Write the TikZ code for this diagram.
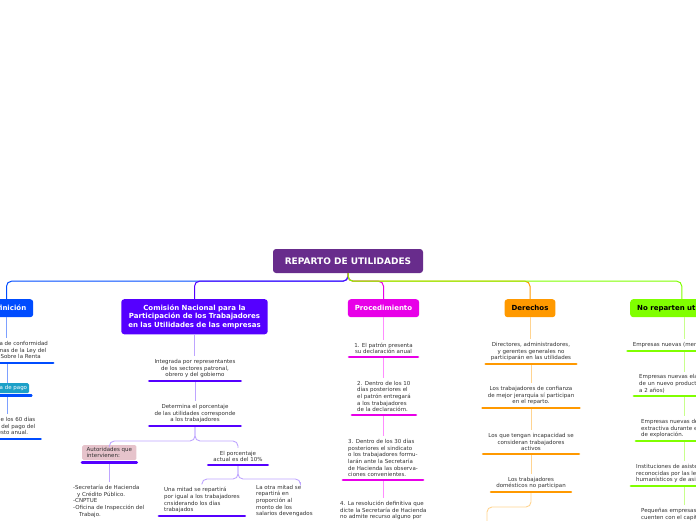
\documentclass[tikz,border=0pt]{standalone}
\usepackage{fontspec}
\setmainfont{DejaVu Sans}
\usetikzlibrary{calc}

\definecolor{rootpurple}{RGB}{104,44,140}
\definecolor{defblue}{RGB}{0,76,255}
\definecolor{deflight}{RGB}{125,160,255}
\definecolor{compurple}{RGB}{85,0,255}
\definecolor{comlight}{RGB}{190,165,255}
\definecolor{procpink}{RGB}{232,0,232}
\definecolor{proclight}{RGB}{255,140,255}
\definecolor{derorange}{RGB}{255,153,0}
\definecolor{derlight}{RGB}{255,212,145}
\definecolor{nogreen}{RGB}{128,255,0}
\definecolor{nolight}{RGB}{200,255,140}
\definecolor{pagoteal}{RGB}{28,160,200}
\definecolor{autpink}{RGB}{230,195,203}
\definecolor{txtgray}{RGB}{50,50,50}

\tikzset{
  rootbox/.style={fill=rootpurple, text=white, rounded corners=3pt,
    font=\fontsize{9}{10}\selectfont\bfseries, minimum width=150pt, minimum height=24pt},
  mainbox/.style={rounded corners=3pt, anchor=north, align=center,
    font=\fontsize{7}{8.5}\selectfont\bfseries, inner xsep=7pt, inner ysep=4.5pt, minimum height=18pt},
  item/.style={font=\fontsize{5.5}{6.6}\selectfont, text=txtgray, align=center,
    inner xsep=5pt, inner ysep=3pt},
  itemL/.style={item, align=left},
  tag/.style={font=\fontsize{5.5}{6.6}\selectfont, rounded corners=1.5pt},
  ubar/.style={line width=2.8pt, line cap=round},
  branch/.style={line width=1pt, rounded corners=5pt},
  link/.style={line width=0.9pt, rounded corners=5pt},
}

\begin{document}
\begin{tikzpicture}[x=1pt,y=-1pt]
\useasboundingbox (0,0) rectangle (696,520);
\clip (0,0) rectangle (696,520);

% central topic
\node[rootbox] (root) at (348,261) {REPARTO DE UTILIDADES};

% main topics
\node[mainbox, fill=defblue, text=white] (def) at (6.5,299) {Definición};
\node[mainbox, fill=compurple, text=white, inner ysep=5.5pt] (com) at (194.5,299)
  {Comisión Nacional para la\\Participación de los Trabajadores\\en las Utilidades de las empresas};
\node[mainbox, fill=procpink, text=white] (proc) at (383.5,299) {Procedimiento};
\node[mainbox, fill=derorange, text=black] (der) at (530,299) {Derechos};
\node[mainbox, fill=nogreen, text=black, anchor=north west] (norep) at (630,299) {No reparten utilidades};

\draw[branch, defblue] (root.south) -- ++(0,8) -| (def.north);
\draw[branch, compurple] (root.south) -- ++(0,8) -| (com.north);
\draw[branch, procpink] (root.south) -- ++(0,8) -| (proc.north);
\draw[branch, derorange] (root.south) -- ++(0,8) -| (der.north);
\draw[branch, nogreen] (root.south) -- ++(0,8) -| (norep.north);

% Definicion
\node[item, anchor=south] (def1) at (7,363)
  {Se determina de conformidad\\con las normas de la Ley del\\Impuesto Sobre la Renta};
\node[tag, fill=pagoteal, text=white, anchor=north, inner xsep=2pt, inner ysep=1pt,
  minimum height=10pt] (pago) at (7,383) {Fecha de pago};
\node[item, anchor=south] (def3) at (6,439)
  {Dentro de los 60 días\\después del pago del\\impuesto anual.};
\draw[link, deflight] (def.south) -- (def.south |- def1.north);
\draw[link, deflight] (def1.south) -- (def1.south |- pago.north);
\draw[link, deflight] ([yshift=-2pt]pago.south) -- (pago.south |- def3.north);
\draw[ubar, defblue] (def1.south west) -- (def1.south east);
\draw[ubar, defblue] ([yshift=-2pt]pago.south west) -- ([xshift=2pt,yshift=-2pt]pago.south east);
\draw[ubar, defblue] (def3.south west) -- (def3.south east);

% Comision
\node[item, anchor=south] (com1) at (195,381)
  {Integrada por representantes\\de los sectores patronal,\\obrero y del gobierno};
\node[item, anchor=south] (com2) at (195,426)
  {Determina el porcentaje\\de las utilidades corresponde\\a los trabajadores};
\node[tag, fill=autpink, text=txtgray, align=left, anchor=north west, inner xsep=4.5pt,
  inner ysep=2pt] (aut) at (82,445) {Autoridades que\\intervienen:};
\node[itemL, anchor=north west] (aut1) at (68,482)
  {-Secretaría de Hacienda\\\hspace*{4pt}y Crédito Público.\\-CNPTUE\\-Oficina de Inspección del\\\hspace*{6pt}Trabajo.};
\node[item, anchor=south] (pct) at (238,465) {El porcentaje\\actual es del 10\%};
\node[itemL, anchor=south west] (mit1) at (159,516)
  {Una mitad se repartirá\\por igual a los trabajadores\\cnsiderando los días\\trabajados};
\node[itemL, anchor=north west] (mit2) at (251,482)
  {La otra mitad se\\repartirá en\\proporción al\\monto de los\\salarios devengados};
\draw[link, comlight] (com.south) -- (com.south |- com1.north);
\draw[link, comlight] (com1.south) -- (com1.south |- com2.north);
\draw[link, comlight] (com2.south) -- ++(0,15) -| (aut.north);
\draw[link, comlight] (com2.south) -- ++(0,15) -| (pct.north);
\draw[link, comlight] ([yshift=-2pt]aut.south) -- (aut.south |- aut1.north);
\draw[link, comlight] (pct.south) -- ++(0,14) -| (mit1.north);
\draw[link, comlight] (pct.south) -- ++(0,14) -| ([xshift=16pt]mit2.north);
\draw[ubar, compurple] (com1.south west) -- (com1.south east);
\draw[ubar, compurple] (com2.south west) -- (com2.south east);
\draw[ubar, compurple] ([yshift=-2pt]aut.south west) -- ([yshift=-2pt]aut.south east);
\draw[ubar, compurple] (pct.south west) -- (pct.south east);
\draw[ubar, compurple] (mit1.south west) -- (mit1.south east);

% Procedimiento
\node[item, anchor=south] (p1) at (383.5,357) {1. El patrón presenta\\su declaración anual};
\node[itemL, anchor=south west] (p2) at (352,415)
  {2. Dentro de los 10\\días posteriores el\\el patrón entregará\\a los trabajadores\\de la declaracióm.};
\node[itemL, anchor=south west] (p3) at (343,480)
  {3. Dentro de los 30 días\\posteriores el sindicato\\o los trabajadores formu-\\larán ante la Secretaría\\de Hacienda las observa-\\ciones convenientes.};
\node[itemL, anchor=north west] (p4) at (335,498)
  {4. La resolución definitiva que\\dicte la Secretaría de Hacienda\\no admite recurso alguno por};
\draw[link, proclight] (proc.south) -- (proc.south |- p1.north);
\draw[link, proclight] (p1.south) -- (p1.south |- p2.north);
\draw[link, proclight] (p1.south |- p2.south) -- (p1.south |- p3.north);
\draw[link, proclight] (p1.south |- p3.south) -- (p1.south |- p4.north);
\draw[ubar, procpink] (p1.south west) -- (p1.south east);
\draw[ubar, procpink] (p2.south west) -- (p2.south east);
\draw[ubar, procpink] (p3.south west) -- (p3.south east);

% Derechos
\node[item, anchor=south] (d1) at (531,364)
  {Directores, administradores,\\y gerentes generales no\\participarán en las utilidades};
\node[item, anchor=south] (d2) at (531,408)
  {Los trabajadores de confianza\\de mejor jerarquía sí participan\\en el reparto.};
\node[item, anchor=south] (d3) at (531,454)
  {Los que tengan incapacidad se\\consideran trabajadores\\activos};
\node[item, anchor=south] (d4) at (531,492) {Los trabajadores\\domésticos no participan};
\coordinate (d5) at (487,540);
\draw[link, derlight] (der.south) -- (der.south |- d1.north);
\draw[link, derlight] (d1.south) -- (d1.south |- d2.north);
\draw[link, derlight] (d2.south) -- (d2.south |- d3.north);
\draw[link, derlight] (d3.south) -- (d3.south |- d4.north);
\draw[link, derlight] (d4.south) -- ++(0,15) -| (d5);
\draw[ubar, derorange] (d1.south west) -- (d1.south east);
\draw[ubar, derorange] (d2.south west) -- (d2.south east);
\draw[ubar, derorange] (d3.south west) -- (d3.south east);
\draw[ubar, derorange] (d4.south west) -- (d4.south east);

% No reparten
\node[item, anchor=south] (n1) at (684,351) {Empresas nuevas (menos de un año)};
\node[itemL, anchor=south west] (n2) at (634,396)
  {Empresas nuevas elaboradoras\\de un nuevo producto (de 1\\a 2 años)};
\node[itemL, anchor=south west] (n3) at (636,441)
  {Empresas nuevas de industria\\extractiva durante el periodo\\de exploración.};
\node[itemL, anchor=south west] (n4) at (631,486)
  {Instituciones de asistencia privada\\reconocidas por las leyes, con fines\\humanísticos y de asistencia};
\node[itemL, anchor=north west] (n5) at (636,505)
  {Pequeñas empresas que no\\cuenten con el capital mínimo};
\draw[link, nolight] (n1.north |- norep.south) -- (n1.north);
\draw[link, nolight] (n1.south) -- (n1.south |- n2.north);
\draw[link, nolight] (n1.south |- n2.south) -- (n1.south |- n3.north);
\draw[link, nolight] (n1.south |- n3.south) -- (n1.south |- n4.north);
\draw[link, nolight] (n1.south |- n4.south) -- (n1.south |- n5.north);
\draw[ubar, nogreen] (n1.south west) -- (n1.south east);
\draw[ubar, nogreen] (n2.south west) -- (n2.south east);
\draw[ubar, nogreen] (n3.south west) -- (n3.south east);
\draw[ubar, nogreen] (n4.south west) -- (n4.south east);
\end{tikzpicture}
\end{document}
